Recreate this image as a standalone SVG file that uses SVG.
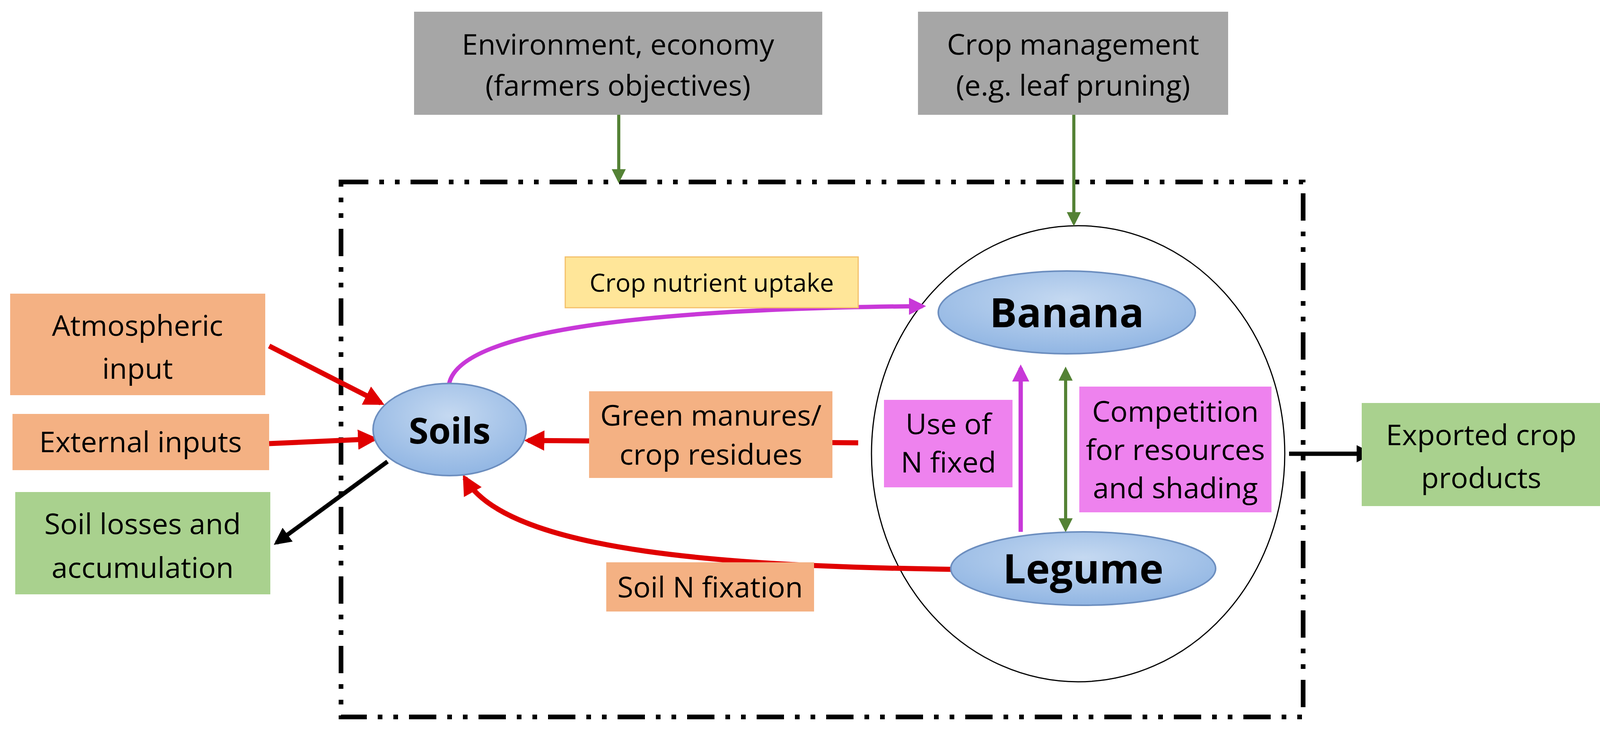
<svg xmlns="http://www.w3.org/2000/svg" width="4104" height="1872" viewBox="0 0 4104 1872">
<defs>
<style>
text{font-family:"Open Sans","Liberation Sans",sans-serif;text-anchor:middle;fill:#000}
.t{font-size:74px}
.b{font-size:104px;font-weight:bold}
.grey{fill:#A6A6A6}
.or{fill:#F4B183}
.gr{fill:#A9D18E}
.pk{fill:#EE82EE}
.blue{fill:url(#bg);stroke:#6C8EBF;stroke-width:4}
.red{stroke:#E00000;stroke-width:13;fill:none}
.blk{stroke:#000;stroke-width:11;fill:none}
.grn{stroke:#548235;stroke-width:8;fill:none}
.pur{stroke:#C838D8;stroke-width:11;fill:none}
</style>
<radialGradient id="bg" cx="0.5" cy="0.35" r="0.7"><stop offset="0" stop-color="#C5D9F1"/><stop offset="1" stop-color="#8DB3E2"/></radialGradient>
<marker id="ar" viewBox="0 0 10 10" refX="8" refY="5" markerWidth="4" markerHeight="4" orient="auto-start-reverse" markerUnits="strokeWidth"><path d="M0,0L10,5L0,10z" fill="#E00000"/></marker>
<marker id="ak" viewBox="0 0 10 10" refX="8" refY="5" markerWidth="4" markerHeight="4" orient="auto-start-reverse" markerUnits="strokeWidth"><path d="M0,0L10,5L0,10z" fill="#000"/></marker>
<marker id="ag" viewBox="0 0 10 10" refX="8" refY="5" markerWidth="4.5" markerHeight="4.5" orient="auto-start-reverse" markerUnits="strokeWidth"><path d="M0,0L10,5L0,10z" fill="#548235"/></marker>
<marker id="ap" viewBox="0 0 10 10" refX="8" refY="5" markerWidth="4" markerHeight="4" orient="auto-start-reverse" markerUnits="strokeWidth"><path d="M0,0L10,5L0,10z" fill="#C838D8"/></marker>
</defs>
<rect width="4104" height="1872" fill="#fff"/>
<g id="boundary"><rect x="873" y="466" width="2463" height="1370" fill="none" stroke="#000" stroke-width="12" stroke-dasharray="70 28 12 28 12 28"/></g>
<g id="system-ellipse"><ellipse cx="2760" cy="1162" rx="529" ry="584" fill="none" stroke="#000" stroke-width="3"/></g>
<g id="connectors">
<line class="grn" x1="1584" y1="294" x2="1584" y2="462" marker-end="url(#ag)"/>
<line class="grn" x1="2749" y1="294" x2="2749" y2="572" marker-end="url(#ag)"/>
<path class="pur" d="M1150,982 C1180,840 1700,790 2362,784" marker-end="url(#ap)"/>
<line class="red" x1="689" y1="886" x2="975" y2="1032" marker-end="url(#ar)"/>
<line class="red" x1="689" y1="1136" x2="958" y2="1124" marker-end="url(#ar)"/>
<line class="blk" x1="992" y1="1182" x2="708" y2="1390" marker-end="url(#ak)"/>
<line class="red" x1="2197" y1="1134" x2="1352" y2="1128" marker-end="url(#ar)"/>
<path class="red" d="M2434,1458 C1900,1450 1300,1420 1190,1224" marker-end="url(#ar)"/>
<line class="pur" x1="2613" y1="1362" x2="2613" y2="942" marker-end="url(#ap)"/>
<line class="grn" x1="2728" y1="946" x2="2728" y2="1356" marker-start="url(#ag)" marker-end="url(#ag)"/>
<line class="blk" x1="3300" y1="1162" x2="3508" y2="1162" marker-end="url(#ak)"/>
</g>
<g id="env"><rect class="grey" x="1060" y="30" width="1045" height="264"/><text class="t" x="1582" y="140">Environment, economy</text><text class="t" x="1582" y="245">(farmers objectives)</text></g>
<g id="cropmgmt"><rect class="grey" x="2350" y="30" width="794" height="264"/><text class="t" x="2747" y="140">Crop management</text><text class="t" x="2747" y="245">(e.g. leaf pruning)</text></g>
<g id="uptake"><rect x="1447" y="658" width="750" height="130" fill="#FFE699" stroke="#F4C06A" stroke-width="3"/><text x="1822" y="747" style="font-size:64px">Crop nutrient uptake</text></g>
<g id="atmos"><rect class="or" x="26" y="752" width="653" height="260"/><text class="t" x="352" y="860">Atmospheric</text><text class="t" x="352" y="970">input</text></g>
<g id="external"><rect class="or" x="32" y="1060" width="657" height="144"/><text class="t" x="360" y="1158">External inputs</text></g>
<g id="losses"><rect class="gr" x="39" y="1260" width="653" height="262"/><text class="t" x="365" y="1368">Soil losses and</text><text class="t" x="365" y="1480">accumulation</text></g>
<g id="greenmanure"><rect class="or" x="1508" y="1002" width="623" height="222"/><text class="t" x="1820" y="1090">Green manures/</text><text class="t" x="1820" y="1190">crop residues</text></g>
<g id="soilfix"><rect class="or" x="1552" y="1440" width="532" height="126"/><text class="t" x="1818" y="1530">Soil N fixation</text></g>
<g id="usen"><rect class="pk" x="2263" y="1024" width="329" height="224"/><text class="t" x="2428" y="1112">Use of</text><text class="t" x="2428" y="1210">N fixed</text></g>
<g id="competition"><rect class="pk" x="2763" y="990" width="492" height="322"/><text class="t" x="3009" y="1080">Competition</text><text class="t" x="3009" y="1178">for resources</text><text class="t" x="3009" y="1276">and shading</text></g>
<g id="exported"><rect class="gr" x="3486" y="1032" width="613" height="264"/><text class="t" x="3792" y="1140">Exported crop</text><text class="t" x="3792" y="1250">products</text></g>
<g id="soils"><ellipse class="blue" cx="1151" cy="1100" rx="196" ry="118"/><text class="b" x="1151" y="1136" style="font-size:92px">Soils</text></g>
<g id="banana"><ellipse class="blue" cx="2731" cy="800" rx="329" ry="106"/><text class="b" x="2731" y="838">Banana</text></g>
<g id="legume"><ellipse class="blue" cx="2773" cy="1456" rx="339" ry="94"/><text class="b" x="2773" y="1494">Legume</text></g>
</svg>
